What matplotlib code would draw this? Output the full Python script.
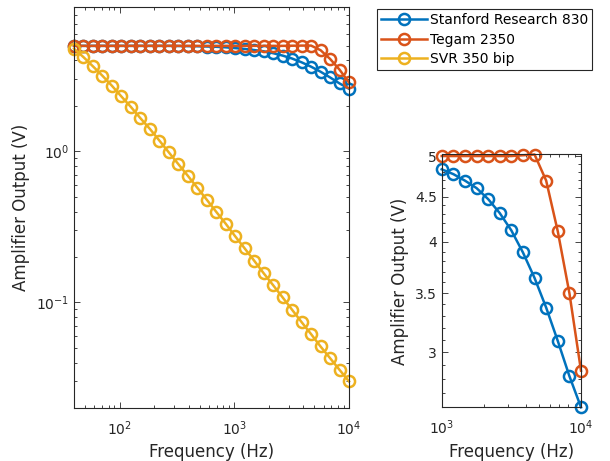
import numpy as np
import matplotlib
matplotlib.use("Agg")
import matplotlib.pyplot as plt
from matplotlib.ticker import FixedLocator, NullFormatter, FormatStrFormatter

# full sweep (left panel)
freq = [40, 48.4, 58.5, 70.8, 85.7, 103.6, 125.4, 151.7, 183.5, 222.0,
        268.6, 324.9, 393.0, 475.3, 575.0, 695.6, 841.5, 1018, 1231, 1490,
        1803, 2181, 2638, 3191, 3860, 4670, 5649, 6834, 8267, 10000]
sr830 = [5.0, 5.0, 5.0, 5.0, 5.0, 5.0, 5.0, 5.0, 5.0, 5.0,
         5.0, 4.99, 4.98, 4.97, 4.95, 4.93, 4.89, 4.83, 4.77, 4.69,
         4.60, 4.47, 4.31, 4.12, 3.89, 3.64, 3.37, 3.09, 2.82, 2.60]
tegam = [5.0, 5.0, 5.0, 5.0, 5.0, 5.0, 5.0, 5.0, 5.0, 5.0,
         5.0, 5.0, 5.0, 5.0, 5.0, 5.0, 5.0, 5.0, 5.0, 5.0,
         5.0, 5.0, 5.0, 5.01, 5.02, 5.02, 4.68, 4.10, 3.48, 2.86]
svr = [4.79, 4.21, 3.66, 3.17, 2.72, 2.31, 1.97, 1.66, 1.41, 1.18,
       0.985, 0.824, 0.690, 0.575, 0.479, 0.398, 0.332, 0.274, 0.228, 0.189,
       0.156, 0.130, 0.108, 0.0894, 0.0741, 0.0617, 0.0511, 0.0428, 0.0358, 0.0300]

# zoomed sweep (right panel)
freq_hi = [1000, 1212, 1468, 1778, 2154, 2610, 3162, 3831, 4642, 5623, 6813, 8254, 10000]
sr830_hi = [4.83, 4.77, 4.69, 4.60, 4.47, 4.31, 4.12, 3.89, 3.64, 3.37, 3.09, 2.82, 2.60]
tegam_hi = [5.0, 5.0, 5.0, 5.0, 5.0, 5.0, 5.0, 5.01, 5.02, 4.69, 4.11, 3.50, 2.86]

labels = ['Stanford Research 830', 'Tegam 2350', 'SVR 350 bip']
colors = ['#0072BD', '#D95319', '#EDB120']

plt.rcParams['font.family'] = ['DejaVu Sans']
axc = '#262626'
sty = dict(marker='o', mfc='none', ms=8, mew=1.8, lw=1.8, clip_on=False)

fig = plt.figure(figsize=(6.10, 4.61), dpi=100)
ax1 = fig.add_axes([74/610, 1-408/461, 275/610, 400.7/461])
ax2 = fig.add_axes([441.7/610, 1-407.3/461, 139.3/610, 252.8/461])

l1, = ax1.loglog(freq, sr830, color=colors[0], **sty)
l2, = ax1.loglog(freq, tegam, color=colors[1], **sty)
l3, = ax1.loglog(freq, svr, color=colors[2], **sty)
ax1.set_xlim(40, 1e4)
ax1.set_ylim(0.02, 9)

ax2.loglog(freq_hi, sr830_hi, color=colors[0], **sty)
ax2.loglog(freq_hi, tegam_hi, color=colors[1], **sty)
ax2.set_xlim(1000, 1e4)
ax2.set_ylim(2.6, 5.02)
ax2.yaxis.set_major_locator(FixedLocator([3, 3.5, 4, 4.5, 5]))
ax2.yaxis.set_major_formatter(FormatStrFormatter('%g'))
ax2.yaxis.set_minor_locator(FixedLocator(np.arange(2.6, 5.05, 0.1)))
ax2.yaxis.set_minor_formatter(NullFormatter())
ax2.xaxis.set_minor_formatter(NullFormatter())

for ax in (ax1, ax2):
    for s in ax.spines.values():
        s.set_color(axc)
        s.set_linewidth(0.8)
    ax.tick_params(which='both', direction='in', top=True, right=True,
                   colors=axc, labelsize=10, width=0.6)
    ax.tick_params(which='major', length=4)
    ax.tick_params(which='minor', length=2)
    for lab in ax.get_xticklabels() + ax.get_yticklabels():
        lab.set_color(axc)
    ax.set_xlabel('Frequency (Hz)', fontsize=12, color=axc, labelpad=4)
    ax.set_ylabel('Amplifier Output (V)', fontsize=12, color=axc, labelpad=4)
    ax.xaxis.set_tick_params(pad=8)

leg = fig.legend([l1, l2, l3], labels, loc='upper left',
                 bbox_to_anchor=(377/610, 1-9/461), borderaxespad=0,
                 fontsize=10, fancybox=False, framealpha=1, edgecolor='#262626',
                 handlelength=3.3, handletextpad=0.2, labelspacing=0.4,
                 borderpad=0.3)
leg.get_frame().set_linewidth(0.8)

fig.savefig('out.png', dpi=100)
